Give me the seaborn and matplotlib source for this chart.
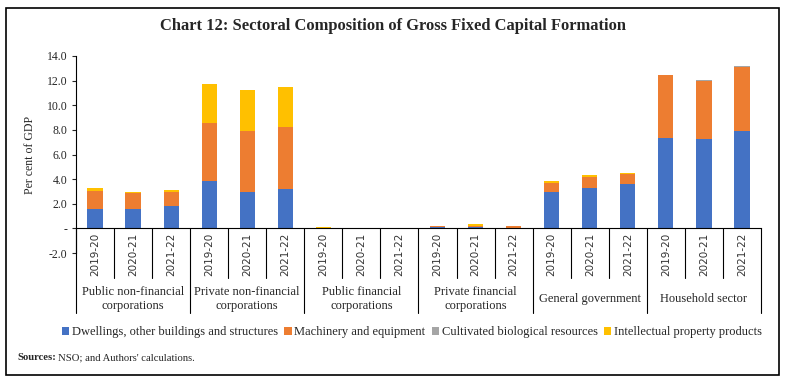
import numpy as np
import pandas as pd
import seaborn as sns
import matplotlib.pyplot as plt
from matplotlib.patches import Patch, Rectangle

groups = ["Public non-financial\ncorporations", "Private non-financial\ncorporations",
          "Public financial\ncorporations", "Private financial\ncorporations",
          "General government", "Household sector"]
years = ["2019-20", "2020-21", "2021-22"]

# per cent of GDP (group by group, 3 years each)
dwellings = [1.55, 1.55, 1.80, 3.85, 2.98, 3.20, 0.02, 0.02, 0.01,
             0.08, 0.08, 0.07, 2.98, 3.30, 3.63, 7.37, 7.26, 7.93]
machinery = [1.48, 1.32, 1.16, 4.73, 4.95, 5.03, 0.05, 0.04, 0.02,
             0.14, 0.14, 0.15, 0.73, 0.90, 0.76, 5.06, 4.74, 5.20]
cultivated = [0.0, 0.0, 0.0, 0.0, 0.0, 0.0, 0.0, 0.0, 0.0,
              0.0, 0.0, 0.0, 0.0, 0.0, 0.0, 0.02, 0.02, 0.02]
intellectual = [0.22, 0.11, 0.16, 3.12, 3.33, 3.28, 0.01, 0.01, 0.01,
                0.01, 0.12, 0.01, 0.14, 0.13, 0.13, 0.0, 0.0, 0.0]

series = ["Dwellings, other buildings and structures", "Machinery and equipment",
          "Cultivated biological resources", "Intellectual property products"]
colors = ["#4472C4", "#ED7D31", "#A5A5A5", "#FFC000"]

keys = [f"{g}|{y}" for g in groups for y in years]
df = pd.DataFrame({"key": keys, "d": dwellings, "m": machinery,
                   "c": cultivated, "i": intellectual})
df["cum1"] = df["d"]
df["cum2"] = df["cum1"] + df["m"]
df["cum3"] = df["cum2"] + df["c"]
df["cum4"] = df["cum3"] + df["i"]

sns.set_theme(style="ticks")
plt.rcParams["font.family"] = ["Liberation Serif", "DejaVu Serif"]

fig = plt.figure(figsize=(7.86, 3.82), dpi=100)
ax = fig.add_axes([76 / 786, 1 - 253 / 382, (761 - 76) / 786, (253 - 56) / 382])

# stacked bars: draw cumulative totals from the top down
for col, c in zip(["cum4", "cum3", "cum2", "cum1"], colors[::-1]):
    sns.barplot(data=df, x="key", y=col, order=keys, color=c, saturation=1,
                width=0.4, ax=ax, errorbar=None, linewidth=0)

ax.set_xlim(-0.5, len(keys) - 0.5)
ax.set_ylim(-2, 14)
ax.set_yticks(np.arange(-2, 15, 2))
ax.set_yticklabels(["-" if v == 0 else f"{v:.1f}" for v in np.arange(-2, 15, 2)], fontsize=8.5)
ax.tick_params(axis="y", length=3, width=0.8, pad=3)
ax.tick_params(axis="x", bottom=False, labelbottom=False)
ax.set_xlabel("")
ax.set_ylabel("Per cent of GDP", fontsize=8.5, labelpad=8)
for s in ["top", "right"]:
    ax.spines[s].set_visible(False)
ax.spines["bottom"].set_position(("data", 0))
ax.spines["left"].set_linewidth(0.8)
ax.spines["bottom"].set_linewidth(0.8)
ax.spines["left"].set_color("black")
ax.spines["bottom"].set_color("black")

# category axis: year labels, group labels and divider lines
tr = ax.get_xaxis_transform()
y0 = 2 / 16
for i in range(len(keys)):
    ax.text(i, -0.008, years[i % 3], rotation=90, ha="center", va="center",
            fontsize=7.5, family="DejaVu Sans", color="#333333", transform=tr)
for b in range(len(keys) + 1):
    end = -0.305 if b % 3 == 0 else -0.127
    ax.plot([b - 0.5, b - 0.5], [y0, end], color="black", lw=0.8,
            transform=tr, clip_on=False)
for gi, g in enumerate(groups):
    ax.text(gi * 3 + 1, -0.234, g, ha="center", va="center", fontsize=9,
            linespacing=1.25, transform=tr)

fig.text(0.5, 1 - 26 / 382, "Chart 12: Sectoral Composition of Gross Fixed Capital Formation",
         ha="center", va="center", fontsize=11.9, fontweight="bold")

handles = [Patch(facecolor=c, edgecolor="none") for c in colors]
fig.legend(handles, series, loc="center", bbox_to_anchor=(0.524, 1 - 332 / 382),
           ncol=4, frameon=False, fontsize=9.0, handlelength=0.6, handleheight=0.6,
           handletextpad=0.2, columnspacing=0.5)

t1 = fig.text(17 / 786, 1 - 358 / 382, "Sources:", fontsize=7.7, fontweight="bold", va="center")
fig.canvas.draw()
bb = t1.get_window_extent()
fig.text(bb.x1 / 786 + 0.003, 1 - 358 / 382, "NSO; and Authors' calculations.",
         fontsize=7.7, va="center")

fig.add_artist(Rectangle((6 / 786, 1 - 375 / 382), (779 - 6) / 786, (375 - 8) / 382,
                         transform=fig.transFigure, fill=False, edgecolor="black", lw=1.2))

fig.savefig("out.png", dpi=100)
